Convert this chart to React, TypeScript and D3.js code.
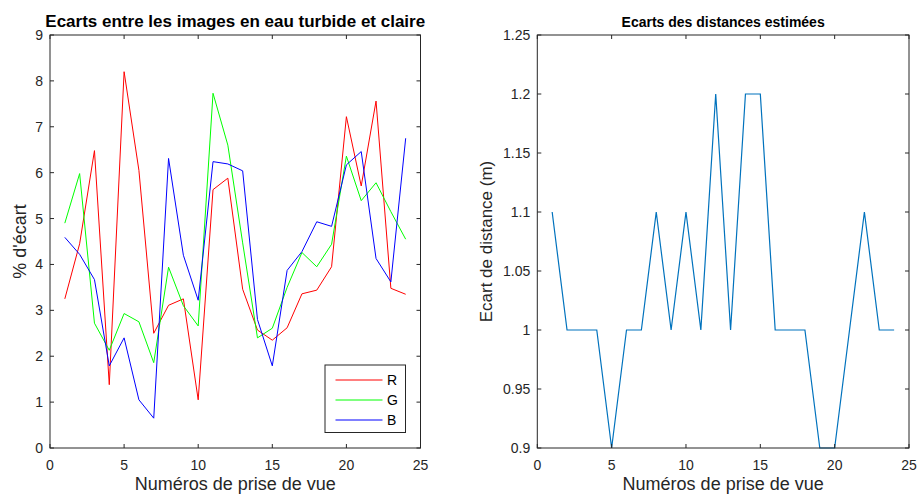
import React from "react";
import * as d3 from "d3";

const shots = d3.range(1, 25);
const rValues = [3.25, 4.45, 6.48, 1.38, 8.2, 6.05, 2.5, 3.11, 3.25, 1.05, 5.63, 5.88, 3.46, 2.57, 2.35, 2.62, 3.36, 3.44, 3.95, 7.22, 5.71, 7.56, 3.48, 3.35];
const gValues = [4.9, 5.98, 2.72, 2.13, 2.93, 2.75, 1.86, 3.94, 3.1, 2.66, 7.73, 6.6, 4.47, 2.4, 2.61, 3.5, 4.26, 3.95, 4.44, 6.36, 5.39, 5.78, 5.15, 4.55];
const bValues = [4.59, 4.22, 3.67, 1.79, 2.4, 1.05, 0.65, 6.31, 4.2, 3.22, 6.24, 6.19, 6.04, 2.8, 1.79, 3.87, 4.28, 4.93, 4.83, 6.17, 6.46, 4.13, 3.62, 6.75];
const distValues = [1.1, 1.0, 1.0, 1.0, 0.9, 1.0, 1.0, 1.1, 1.0, 1.1, 1.0, 1.2, 1.0, 1.2, 1.2, 1.0, 1.0, 1.0, 0.9, 0.9, 1.0, 1.1, 1.0, 1.0];

const xTicks = [0, 5, 10, 15, 20, 25];
const leftYTicks = [0, 1, 2, 3, 4, 5, 6, 7, 8, 9];
const rightYTicks = [0.9, 0.95, 1, 1.05, 1.1, 1.15, 1.2, 1.25];
const rgbSeries = [
  { name: "R", values: rValues, color: "#ff0000" },
  { name: "G", values: gValues, color: "#00ff00" },
  { name: "B", values: bValues, color: "#0000ff" },
];

const AX = "#262626";
const FONT = "'Liberation Sans', Arial, Helvetica, sans-serif";

type AxesProps = {
  x0: number; x1: number; y0: number; y1: number;
  yDomain: [number, number]; yTicks: number[];
  title: string; titleSize: number; yLabel: string; yLabelSize: number; yLabelX: number;
  fmt: (v: number) => string;
  children: (x: d3.ScaleLinear<number, number>, y: d3.ScaleLinear<number, number>) => React.ReactNode;
};

function Axes({ x0, x1, y0, y1, yDomain, yTicks, title, titleSize, yLabel, yLabelSize, yLabelX, fmt, children }: AxesProps) {
  const x = d3.scaleLinear().domain([0, 25]).range([x0, x1]);
  const y = d3.scaleLinear().domain(yDomain).range([y1, y0]);
  const tl = 4;
  return (
    <g fontFamily={FONT}>
      <rect x={x0} y={y0} width={x1 - x0} height={y1 - y0} fill="#fff" />
      {children(x, y)}
      <rect x={x0} y={y0} width={x1 - x0} height={y1 - y0} fill="none" stroke={AX} strokeWidth={1} />
      {xTicks.map((t) => (
        <g key={"x" + t}>
          <line x1={x(t)} x2={x(t)} y1={y1} y2={y1 - tl} stroke={AX} />
          <line x1={x(t)} x2={x(t)} y1={y0} y2={y0 + tl} stroke={AX} />
          <text x={x(t)} y={y1 + 22} textAnchor="middle" fontSize={14} fill={AX}>{t}</text>
        </g>
      ))}
      {yTicks.map((t) => (
        <g key={"y" + t}>
          <line x1={x0} x2={x0 + tl} y1={y(t)} y2={y(t)} stroke={AX} />
          <line x1={x1} x2={x1 - tl} y1={y(t)} y2={y(t)} stroke={AX} />
          <text x={x0 - 7} y={y(t)} dy="0.36em" textAnchor="end" fontSize={14} fill={AX}>{fmt(t)}</text>
        </g>
      ))}
      <text x={(x0 + x1) / 2} y={y0 - 8.5} textAnchor="middle" fontSize={titleSize} fontWeight="bold" fill="#000">{title}</text>
      <text x={(x0 + x1) / 2} y={y1 + 41.5} textAnchor="middle" fontSize={18} fill={AX}>Numéros de prise de vue</text>
      <text transform={`translate(${yLabelX},${(y0 + y1) / 2}) rotate(-90)`} textAnchor="middle" fontSize={yLabelSize} fill={AX}>{yLabel}</text>
    </g>
  );
}

export default function App() {
  return (
    <svg width={918} height={499} style={{ display: "block", position: "absolute", left: 0, top: 0, background: "#fff" }}>
      <rect width={918} height={499} fill="#fff" />
      <Axes x0={50} x1={420.5} y0={35} y1={448} yDomain={[0, 9]} yTicks={leftYTicks}
        title="Ecarts entre les images en eau turbide et claire" titleSize={17}
        yLabel="% d'écart" yLabelSize={18} yLabelX={25.5} fmt={(v) => String(v)}>
        {(x, y) => {
          const line = d3.line<number>().x((_, i) => x(shots[i])).y((v) => y(v));
          return (
            <g>
              {rgbSeries.map((s) => (
                <path key={s.name} d={line(s.values) || ""} fill="none" stroke={s.color} strokeWidth={1} />
              ))}
              <g>
                <rect x={325} y={365} width={80.5} height={67.5} fill="#fff" stroke={AX} strokeWidth={1} />
                {rgbSeries.map((s, i) => (
                  <g key={"lg" + s.name}>
                    <line x1={335.5} x2={382.5} y1={380 + i * 20} y2={380 + i * 20} stroke={s.color} />
                    <text x={387} y={380 + i * 20} dy="0.36em" fontSize={14} fill="#000">{s.name}</text>
                  </g>
                ))}
              </g>
            </g>
          );
        }}
      </Axes>
      <Axes x0={537.3} x1={909} y0={35} y1={448} yDomain={[0.9, 1.25]} yTicks={rightYTicks}
        title="Ecarts des distances estimées" titleSize={14}
        yLabel="Ecart de distance (m)" yLabelSize={17} yLabelX={492} fmt={(v) => d3.format("~g")(v)}>
        {(x, y) => {
          const line = d3.line<number>().x((_, i) => x(shots[i])).y((v) => y(v));
          return <path d={line(distValues) || ""} fill="none" stroke="#0072bd" strokeWidth={1.2} />;
        }}
      </Axes>
    </svg>
  );
}
